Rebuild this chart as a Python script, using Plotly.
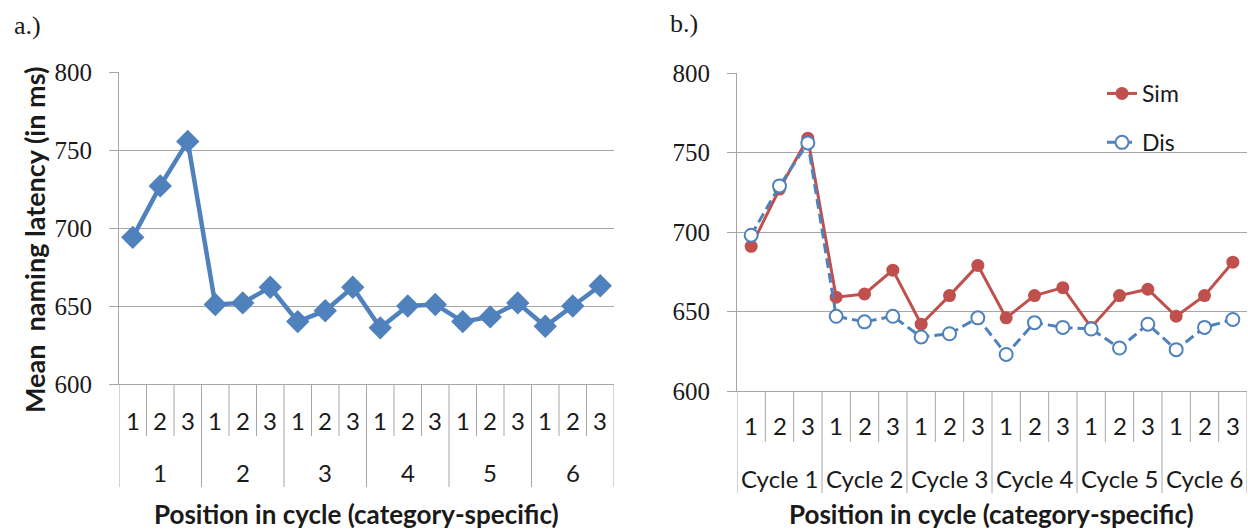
import plotly.graph_objects as go

# ---- data -------------------------------------------------------------
positions = ["1", "2", "3"] * 6
cycles_a = ["1", "2", "3", "4", "5", "6"]
cycles_b = ["Cycle 1", "Cycle 2", "Cycle 3", "Cycle 4", "Cycle 5", "Cycle 6"]

latency_all = [694, 727, 755.5, 651, 652, 662, 640, 647, 662,
               636, 650, 651, 640, 643, 652, 637, 650, 663]
sim = [691, 727, 759, 659, 661, 676, 642, 660, 679,
       646, 660, 665, 640, 660, 664, 647, 660, 681]
dis = [698, 729, 756, 647, 643.5, 647, 634, 636, 646,
       623, 643, 640, 639, 627, 642, 626, 640, 645]

y_ticks = [600, 650, 700, 750, 800]

# ---- styling ----------------------------------------------------------
W, H = 1248, 531
BLUE = "#4F81BD"
RED = "#C0504D"
GRID = "#A6A6A6"
TEXT = "#1a1a1a"
SANS = "Lato"
SERIF = "Liberation Serif"

x_idx = list(range(len(positions)))

fig = go.Figure()

fig.add_trace(go.Scatter(
    x=x_idx, y=latency_all, xaxis="x", yaxis="y", mode="lines+markers",
    line=dict(color=BLUE, width=4.5),
    marker=dict(symbol="diamond", size=18, color=BLUE),
    showlegend=False,
))
fig.add_trace(go.Scatter(
    x=x_idx, y=sim, xaxis="x2", yaxis="y2", mode="lines+markers", name="Sim",
    legendgroup="sim",
    line=dict(color=RED, width=3),
    marker=dict(symbol="circle", size=13, color=RED),
))
fig.add_trace(go.Scatter(
    x=x_idx, y=dis, xaxis="x2", yaxis="y2", mode="lines+markers", name="Dis",
    legendgroup="dis",
    line=dict(color=BLUE, width=3, dash="10px,5px"),
    marker=dict(symbol="circle", size=13, color="white",
                line=dict(color=BLUE, width=2)),
))


def px_x(p):
    return p / W


def px_y(p):
    return 1 - p / H


panels = {
    "a": dict(x0=119, x1=614, top=72, bottom=384, xa="x", ya="y",
              groups=cycles_a, inner_len=52, outer_len=103,
              inner_shift=-36, outer_shift=-88, title_cx=356, label="a.)",
              label_x=12, label_y=25),
    "b": dict(x0=737, x1=1247, top=73, bottom=391, xa="x2", ya="y2",
              groups=cycles_b, inner_len=51, outer_len=102,
              inner_shift=-34, outer_shift=-87, title_cx=991, label="b.)",
              label_x=668, label_y=23),
}

layout_axes = {}
shapes = []
annotations = []
n = len(positions)

for key, p in panels.items():
    xname = "xaxis" if p["xa"] == "x" else "xaxis2"
    yname = "yaxis" if p["ya"] == "y" else "yaxis2"
    layout_axes[xname] = dict(
        domain=[px_x(p["x0"]), px_x(p["x1"])], range=[-0.5, n - 0.5],
        anchor=p["ya"], showgrid=False, zeroline=False,
        showticklabels=False, ticks="", showline=True, linecolor=GRID,
        linewidth=1, fixedrange=True, automargin=False,
    )
    layout_axes[yname] = dict(
        domain=[px_y(p["bottom"]), px_y(p["top"])], range=[600, 800],
        anchor=p["xa"], tickvals=y_ticks, showgrid=True, gridcolor=GRID,
        gridwidth=1, zeroline=False, showline=True, linecolor=GRID,
        linewidth=1, ticks="outside", ticklen=9, tickcolor=GRID,
        tickfont=dict(family=SERIF, size=25, color=TEXT),
        ticklabelstandoff=12, fixedrange=True, automargin=False,
    )

    ydom = p["ya"] + " domain"
    # category dividers below the plot area
    for b in range(n + 1):
        length = p["outer_len"] if b % 3 == 0 else p["inner_len"]
        shapes.append(dict(
            type="line", xref=p["xa"], yref=ydom, ysizemode="pixel",
            yanchor=0, x0=b - 0.5, x1=b - 0.5, y0=0, y1=-length,
            line=dict(color=GRID, width=1),
        ))
    # inner (position) labels
    for i, lab in enumerate(positions):
        annotations.append(dict(
            x=i, y=0, xref=p["xa"], yref=ydom, text=lab, showarrow=False,
            yanchor="middle", yshift=p["inner_shift"],
            font=dict(family=SANS, size=24, color=TEXT),
        ))
    # outer (cycle) labels
    for g, lab in enumerate(p["groups"]):
        annotations.append(dict(
            x=3 * g + 1, y=0, xref=p["xa"], yref=ydom, text=lab,
            showarrow=False, yanchor="middle", yshift=p["outer_shift"],
            font=dict(family=SANS, size=24, color=TEXT),
        ))
    # x-axis title
    annotations.append(dict(
        x=px_x(p["title_cx"]), y=px_y(514), xref="paper", yref="paper",
        text="<b>Position in cycle (category-specific)</b>", showarrow=False,
        xanchor="center", yanchor="middle",
        font=dict(family=SANS, size=26, color=TEXT),
    ))
    # panel label
    annotations.append(dict(
        x=px_x(p["label_x"]), y=px_y(p["label_y"]), xref="paper",
        yref="paper", text=p["label"], showarrow=False, xanchor="left",
        yanchor="middle", font=dict(family=SERIF, size=26, color=TEXT),
    ))

# y-axis title of panel a
annotations.append(dict(
    x=px_x(34), y=px_y(240), xref="paper", yref="paper",
    text="<b>Mean\u00a0 naming latency (in ms)</b>", showarrow=False,
    textangle=-90, xanchor="center", yanchor="middle",
    font=dict(family=SANS, size=27, color=TEXT),
))

fig.update_layout(
    width=W, height=H, margin=dict(l=0, r=0, t=0, b=0, autoexpand=False),
    paper_bgcolor="white", plot_bgcolor="white",
    shapes=shapes, annotations=annotations,
    legend=dict(
        x=px_x(1102), y=px_y(72), xanchor="left", yanchor="top",
        bgcolor="rgba(0,0,0,0)", tracegroupgap=16,
        font=dict(family=SANS, size=23, color=TEXT),
    ),
    **layout_axes,
)

fig.write_html("out.html")
